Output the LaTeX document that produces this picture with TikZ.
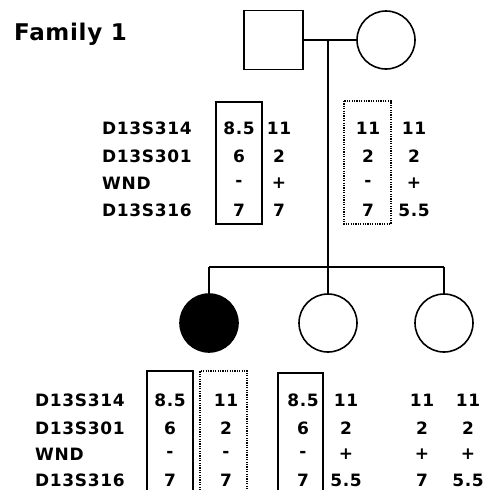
\documentclass[tikz,border=0pt]{standalone}
\usepackage{fontspec}
\setmainfont{DejaVu Sans}
\newfontfamily\mk[LetterSpace=4]{DejaVu Sans Bold}
\newfontfamily\ttl[LetterSpace=3]{DejaVu Sans Bold}
\begin{document}
\begin{tikzpicture}[x=1pt,y=-1pt,
  sym/.style={draw,line width=1.6pt,inner sep=0pt},
  sq/.style={sym,rectangle,minimum size=59pt},
  ci/.style={sym,circle,minimum size=58pt},
  ln/.style={line width=1.6pt},
  mlabel/.style={anchor=west,inner sep=0pt,font=\mk\fontsize{17}{19}\selectfont},
  val/.style={inner sep=0pt,font=\mk\fontsize{17}{19}\selectfont},
  sbox/.style={line width=1.3pt},
  dbox/.style={line width=1.3pt,dash pattern=on 1.2pt off 1.2pt}]
\useasboundingbox (0,0) rectangle (490,490);
\clip (0,0) rectangle (490,490);
% title
\node[anchor=west,inner sep=0pt,font=\ttl\fontsize{23}{26}\selectfont] (title) at (14,34) {Family 1};
% parents
\node[sq] (father) at (273.5,40) {};
\node[ci] (mother) at (386,40) {};
\draw[ln] (father.east) -- (mother.west);
\coordinate (mid) at (328,40);
\coordinate (sib) at (328,267);
\draw[ln] (mid) -- (sib);
% children
\node[ci,fill=black] (c1) at (209,323) {};
\node[ci] (c2) at (328,323) {};
\node[ci] (c3) at (444,323) {};
\coordinate (sl) at (209,267);
\coordinate (sr) at (444,267);
\draw[ln] (sl) -- (sr);
\draw[ln] (sl) -- (c1.north);
\draw[ln] (sib) -- (c2.north);
\draw[ln] (sr) -- (c3.north);
% parent markers
\foreach \t/\y [count=\i] in {D13S314/128,D13S301/156,WND/183,D13S316/210}
  \node[mlabel] (pl\i) at (102,\y) {\t};
\draw[sbox] (216,102) rectangle (262,224);
\draw[dbox] (344,101) rectangle (391,224);
\foreach \a/\b/\c/\d/\y [count=\i] in {8.5/11/11/11/128, 6/2/2/2/156, -/+/-/+/183, 7/7/7/5.5/210}{
  \node[val] (pa\i) at (239,\y) {\a};
  \node[val] (pb\i) at (279,\y) {\b};
  \node[val] (pc\i) at (368,\y) {\c};
  \node[val] (pd\i) at (414,\y) {\d};
}
% children markers
\foreach \t/\y [count=\i] in {D13S314/400,D13S301/428,WND/454,D13S316/480}
  \node[mlabel] (cl\i) at (35,\y) {\t};
\draw[sbox] (147,495) -- (147,371) -- (193,371) -- (193,495);
\draw[dbox] (200,495) -- (200,371) -- (247,371) -- (247,495);
\draw[sbox] (278,495) -- (278,373) -- (323,373) -- (323,495);
\foreach \a/\b/\c/\d/\e/\f/\y [count=\i] in {8.5/11/8.5/11/11/11/400, 6/2/6/2/2/2/428, -/-/-/+/+/+/454, 7/7/7/5.5/7/5.5/480}{
  \node[val] (ca\i) at (170,\y) {\a};
  \node[val] (cb\i) at (226,\y) {\b};
  \node[val] (cc\i) at (303,\y) {\c};
  \node[val] (cd\i) at (346,\y) {\d};
  \node[val] (ce\i) at (422,\y) {\e};
  \node[val] (cf\i) at (468,\y) {\f};
}
\end{tikzpicture}
\end{document}
